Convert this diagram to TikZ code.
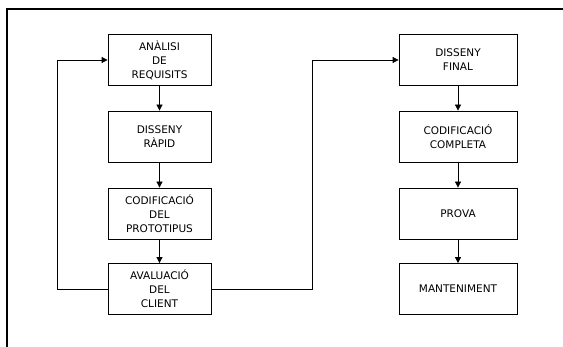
\documentclass[tikz,border=0pt]{standalone}
\usepackage{fontspec}
\setmainfont{DejaVu Sans}
\usetikzlibrary{arrows.meta}

\tikzset{
  pas/.style={draw, line width=.8pt, minimum height=51pt, align=center, inner sep=0pt,
    font=\fontsize{10.5}{14}\selectfont},
  esq/.style={pas, minimum width=103pt},
  dre/.style={pas, minimum width=118pt},
  fletxa/.style={-{Triangle[length=6pt,width=6pt]}, line width=.8pt},
}

\begin{document}
\begin{tikzpicture}[x=1pt, y=-1pt]
\useasboundingbox (0,0) rectangle (563,347);
\draw[line width=1.2pt] (7,347)--(7,9)--(563,9);
% prototip
\node[esq] (analisi) at (159.5,60) {ANÀLISI\\DE\\REQUISITS};
\node[esq] (rapid) at (159.5,136.5) {DISSENY\\RÀPID};
\node[esq] (codiproto) at (159.5,213.5) {CODIFICACIÓ\\DEL\\PROTOTIPUS};
\node[esq] (avaluacio) at (159.5,289) {AVALUACIÓ\\DEL\\CLIENT};
% desenvolupament final
\node[dre] (final) at (458,60) {DISSENY\\FINAL};
\node[dre] (completa) at (458,136.5) {CODIFICACIÓ\\COMPLETA};
\node[dre] (prova) at (458,213.5) {PROVA};
\node[dre] (manteniment) at (458,289) {MANTENIMENT};
\draw[fletxa] (analisi)--(rapid);
\draw[fletxa] (rapid)--(codiproto);
\draw[fletxa] (codiproto)--(avaluacio);
\draw[fletxa] (final)--(completa);
\draw[fletxa] (completa)--(prova);
\draw[fletxa] (prova)--(manteniment);
\draw[fletxa] (avaluacio.west)--++(-50,0) |- (analisi.west);
\draw[fletxa] (avaluacio.east)--++(101,0) |- (final.west);
\end{tikzpicture}
\end{document}
